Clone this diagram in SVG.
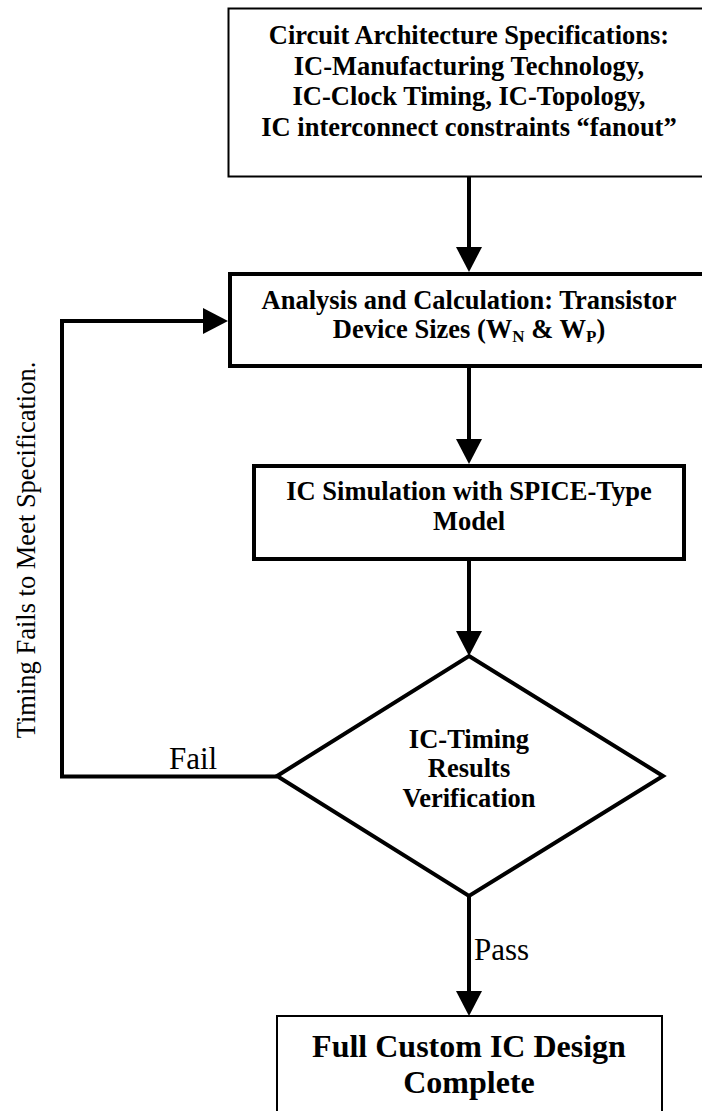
<svg xmlns="http://www.w3.org/2000/svg" width="702" height="1111" viewBox="0 0 702 1111">
  <style>
    .thin { fill: #fff; stroke: #000; stroke-width: 2; }
    .thick { fill: #fff; stroke: #000; stroke-width: 4; }
    .conn { fill: none; stroke: #000; stroke-width: 4; }
    .b { font-family: "Liberation Serif", "Times New Roman", serif; font-weight: bold; font-size: 26.5px; fill: #000; text-anchor: middle; }
    .big { font-size: 32px; }
    .r { font-family: "Liberation Serif", "Times New Roman", serif; font-size: 31px; fill: #000; }
    .v { font-family: "Liberation Serif", "Times New Roman", serif; font-size: 26.5px; fill: #000; text-anchor: middle; }
  </style>
  <defs>
    <marker id="ah" markerUnits="userSpaceOnUse" markerWidth="26" markerHeight="28" viewBox="0 -14 26 28" refX="0" refY="0" orient="auto">
      <path d="M0,-13 L25,0 L0,13 z" fill="#000"/>
    </marker>
  </defs>
  <rect width="702" height="1111" fill="#fff"/>

  <g id="connectors">
    <path class="conn" d="M469,177 L469,247" marker-end="url(#ah)"/>
    <path class="conn" d="M469,368 L469,439" marker-end="url(#ah)"/>
    <path class="conn" d="M469,561 L469,631" marker-end="url(#ah)"/>
    <path class="conn" d="M469,896 L469,991" marker-end="url(#ah)"/>
    <path class="conn" d="M277,776.5 L62,776.5 L62,321 L203,321" marker-end="url(#ah)"/>
    <text class="r" x="169" y="769">Fail</text>
    <text class="r" x="474" y="960">Pass</text>
    <text class="v" transform="translate(35,550) rotate(-90)">Timing Fails to Meet Specification.</text>
  </g>

  <g id="spec">
    <rect class="thin" x="228.5" y="8.5" width="482" height="168"/>
    <text class="b" x="469" y="44">Circuit Architecture Specifications:</text>
    <text class="b" x="469" y="74.5">IC-Manufacturing Technology,</text>
    <text class="b" x="469" y="105">IC-Clock Timing, IC-Topology,</text>
    <text class="b" x="469" y="135.5">IC interconnect constraints “fanout”</text>
  </g>

  <g id="analysis">
    <rect class="thick" x="230" y="274" width="480" height="92"/>
    <text class="b" x="469" y="309">Analysis and Calculation: Transistor</text>
    <text class="b" x="469" y="338">Device Sizes (W<tspan font-size="17" dy="4">N</tspan><tspan dy="-4"> &amp; W</tspan><tspan font-size="17" dy="4">P</tspan><tspan dy="-4">)</tspan></text>
  </g>

  <g id="simulation">
    <rect class="thick" x="254" y="466" width="430" height="93"/>
    <text class="b" x="469" y="500">IC Simulation with SPICE-Type</text>
    <text class="b" x="469" y="530">Model</text>
  </g>

  <g id="verification">
    <polygon class="thick" points="469,656 663,776 469,896 277,776"/>
    <text class="b" x="469" y="748">IC-Timing</text>
    <text class="b" x="469" y="777">Results</text>
    <text class="b" x="469" y="807">Verification</text>
  </g>

  <g id="complete">
    <rect class="thin" x="277" y="1016" width="385" height="110"/>
    <text class="b big" x="469" y="1057">Full Custom IC Design</text>
    <text class="b big" x="469" y="1093">Complete</text>
  </g>
</svg>
